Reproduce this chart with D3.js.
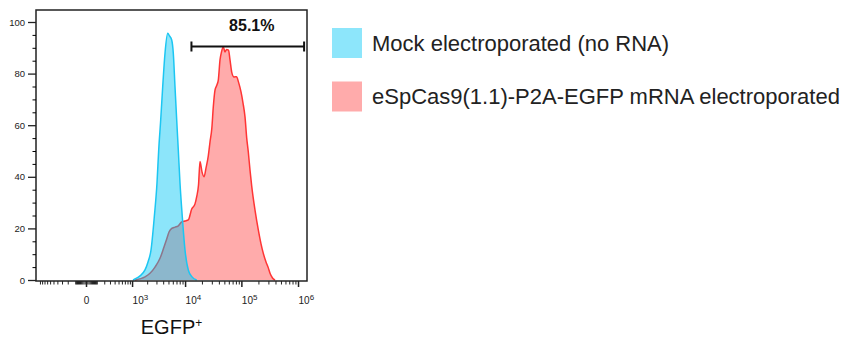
<!DOCTYPE html>
<html>
<head>
<meta charset="utf-8">
<script src="https://cdn.jsdelivr.net/npm/d3@7"></script>
<style>
	body { margin: 0; background: #fff; }
	svg { display: block; font-family: "Liberation Sans", Arial, sans-serif; }
</style>
</head>
<body>
<svg></svg>
<script>
// EGFP histograms (x = fluorescence, y = % of max)
const MOCK_X = [1046, 1150, 1450, 1817, 2077, 2368, 2735, 3072, 3305, 3600, 3920, 4323, 4845, 5225, 5731, 6128, 6579, 7062, 7548, 8100, 8911, 9970, 11422, 13305, 16142];
const MOCK_Y = [0, 0.4, 1.6, 3.9, 7.0, 11.6, 24.5, 37.6, 50.4, 62.0, 74.9, 87.9, 95.6, 94.6, 93.0, 87.9, 74.9, 62.0, 50.4, 37.6, 24.5, 11.6, 3.9, 1.2, 0];

const CAS9_X = [1150, 1817, 2267, 2819, 3494, 4143, 4644, 5117, 5731, 6579, 7456, 8694, 9970, 11422, 13142, 15053, 16142, 17379, 18484, 20062, 21774, 23635, 25966, 27837, 30021, 31850, 34143, 36290, 39058, 41880, 44518, 47920, 51360, 54600, 59240, 62970, 67490, 74110, 82040, 89000, 98530, 106890, 115950, 124250, 132600, 142080, 152260, 174120, 199140, 222240, 244030, 272340, 299030, 320500, 354700, 392600];
const CAS9_Y = [0, 1.2, 2.6, 5.0, 8.4, 12.8, 15.9, 18.6, 20.0, 20.5, 20.9, 22.5, 22.9, 23.3, 27.5, 29.5, 32.3, 36.8, 45.9, 41.9, 40.0, 43.4, 48.1, 53.5, 58.9, 67.1, 73.6, 75.2, 77.5, 85.3, 88.4, 90.3, 88.4, 89.3, 89.1, 85.3, 80.6, 78.7, 78.8, 76.7, 72.9, 68.6, 63.2, 55.0, 49.6, 42.6, 36.4, 27.1, 19.4, 14.0, 10.3, 7.0, 4.7, 2.6, 0.8, 0];

const SERIES_NAMES = ["Mock electroporated (no RNA)", "eSpCas9(1.1)-P2A-EGFP mRNA electroporated"];
const GATE = [13000, 1280000];
const GATE_LABEL = "85.1%";
const X_MAJOR = [0, 1e3, 1e4, 1e5, 1e6];
const Y_MAJOR = [0, 20, 40, 60, 80, 100];
const X_TITLE = "EGFP";

const w = 857, h = 340;
const box = {left: 36, top: 10, right: 307, bottom: 281};

const svg = d3.select('svg')
	.attr('width', w)
	.attr('height', h)
	.attr('viewBox', [0, 0, w, h]);

// biexponential-ish x axis
const xScale = d3.scaleSymlog()
	.constant(182)
	.domain([-1205, 1.44e6])
	.range([box.left, box.right]);

const yScale = d3.scaleLinear()
	.domain([0, 100])
	.range([280, 22]);

const toPts = (xs, ys) => xs.map((x, i) => ({x: x, y: ys[i]}));

const area = d3.area()
	.curve(d3.curveMonotoneX)
	.x(d => xScale(d.x))
	.y0(yScale(0))
	.y1(d => yScale(d.y));
const line = d3.line()
	.curve(d3.curveMonotoneX)
	.x(d => xScale(d.x))
	.y(d => yScale(d.y));

const cas9 = toPts(CAS9_X, CAS9_Y);
const mock = toPts(MOCK_X, MOCK_Y);

// red first, blue on top (semi transparent)
svg.append('path').attr('d', area(cas9)).attr('fill', '#ffabab');
svg.append('path').attr('d', line(cas9)).attr('fill', 'none').attr('stroke', '#ff3535').attr('stroke-width', 1.5);
svg.append('path').attr('d', area(mock)).attr('fill', 'rgb(0,198,245)').attr('fill-opacity', 0.45);
svg.append('path').attr('d', line(mock)).attr('fill', 'none').attr('stroke', '#1cc6f2').attr('stroke-width', 1.5);

// frame
svg.append('rect')
	.attr('x', box.left)
	.attr('y', box.top)
	.attr('width', box.right - box.left)
	.attr('height', box.bottom - box.top)
	.attr('fill', 'none')
	.attr('stroke', '#222')
	.attr('stroke-width', 1.5);

// y axis
const yMinor = d3.range(0, 101, 5).filter(v => v % 20 !== 0);
svg.append('g')
	.attr('transform', `translate(${box.left},0)`)
	.call(d3.axisLeft(yScale).tickValues(yMinor).tickSize(3.5).tickFormat(''))
	.call(g => g.select('.domain').remove());
const yAx = svg.append('g')
	.attr('transform', `translate(${box.left},0)`)
	.call(d3.axisLeft(yScale).tickValues(Y_MAJOR).tickSize(8).tickPadding(3))
	.call(g => g.select('.domain').remove());
yAx.selectAll('.tick line').attr('stroke', '#222').attr('stroke-width', 1.3);
yAx.selectAll('.tick text').attr('font-size', 9.5).attr('fill', '#222').attr('font-family', '"Liberation Sans", Arial, sans-serif');

// x axis minor ticks
let xMinor = [];
[10, 100, 1000, 10000, 100000].forEach(dec => {
	for (let k = 1; k <= 9; k++) {
		const v = k * dec;
		if (dec >= 1000 && k === 1) continue;
		xMinor.push(v);
		if (dec <= 100) xMinor.push(-v);
	}
});
xMinor.push(-1000);
xMinor = xMinor.filter(v => v > xScale.domain()[0] && v < xScale.domain()[1]);

svg.append('g')
	.attr('transform', `translate(0,${box.bottom})`)
	.call(d3.axisBottom(xScale).tickValues(xMinor).tickSize(3.5).tickFormat(''))
	.call(g => g.select('.domain').remove())
	.selectAll('.tick line').attr('stroke', '#222');

const xAx = svg.append('g')
	.attr('transform', `translate(0,${box.bottom})`)
	.call(d3.axisBottom(xScale).tickValues(X_MAJOR).tickSize(6).tickPadding(10).tickFormat(''))
	.call(g => g.select('.domain').remove());
xAx.selectAll('.tick line').attr('stroke', '#222').attr('stroke-width', 1.5);
xAx.selectAll('.tick text').each(function(d) {
	const t = d3.select(this)
		.attr('font-size', 10)
		.attr('fill', '#222')
		.attr('font-family', '"Liberation Sans", Arial, sans-serif');
	if (d === 0) {
		t.text('0');
	} else {
		t.attr('text-anchor', 'start');
		t.append('tspan').text('10');
		t.append('tspan').attr('dy', '-0.5em').attr('font-size', 8).text(Math.round(Math.log10(d)));
	}
});

// axis title
const title = svg.append('text')
	.attr('x', (box.left + box.right) / 2)
	.attr('y', 334)
	.attr('text-anchor', 'middle')
	.attr('font-size', 20)
	.attr('fill', '#111')
	.text(X_TITLE);
title.append('tspan').attr('dy', -7).attr('font-size', 12).text('+');

// gate
const gy = 46.5;
const g0 = xScale(GATE[0]), g1 = xScale(GATE[1]);
const gate = svg.append('g').attr('stroke', '#111').attr('stroke-width', 2);
gate.append('line').attr('x1', g0).attr('x2', g1).attr('y1', gy).attr('y2', gy);
gate.append('line').attr('x1', g0).attr('x2', g0).attr('y1', gy - 5).attr('y2', gy + 5);
gate.append('line').attr('x1', g1).attr('x2', g1).attr('y1', gy - 5).attr('y2', gy + 5);
svg.append('text')
	.attr('x', (g0 + g1) / 2 + 4)
	.attr('y', 31)
	.attr('text-anchor', 'middle')
	.attr('font-size', 16)
	.attr('font-weight', 'bold')
	.attr('fill', '#111')
	.text(GATE_LABEL);

// legend
const legColors = ['#8de6fb', '#ffabab'];
const leg = svg.selectAll('.leg')
	.data(SERIES_NAMES)
	.enter()
	.append('g')
	.attr('class', 'leg')
	.attr('transform', (d, i) => `translate(332,${28 + i * 53.5})`);
leg.append('rect')
	.attr('width', 30)
	.attr('height', 30)
	.attr('fill', (d, i) => legColors[i]);
leg.append('text')
	.attr('x', 40)
	.attr('y', 15)
	.attr('dy', '0.35em')
	.attr('font-size', 22)
	.attr('fill', '#222')
	.text(d => d);
</script>
</body>
</html>
